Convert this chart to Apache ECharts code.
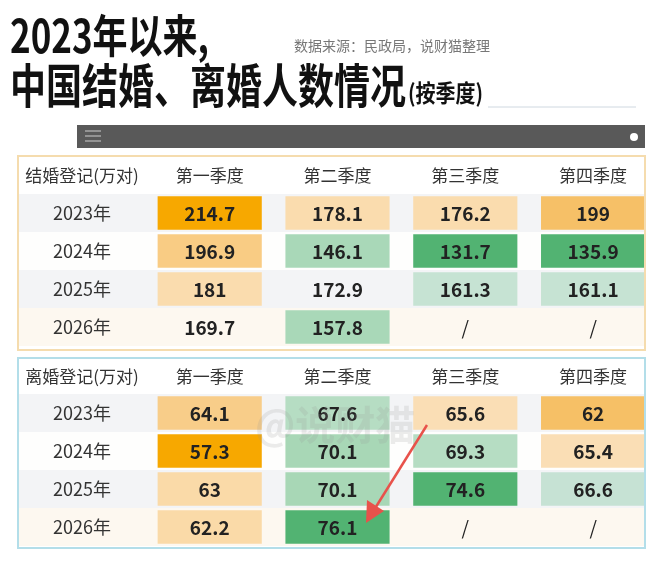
<!DOCTYPE html>
<html>
<head>
<meta charset="utf-8">
<script src="https://cdn.jsdelivr.net/npm/echarts@6/dist/echarts.min.js"></script>
<style>
  html, body { margin: 0; padding: 0; background: #fff; }
  #chart { width: 660px; height: 563px; }
</style>
</head>
<body>
<div id="chart"></div>
<script>
// table headers
const quarters = ['第一季度', '第二季度', '第三季度', '第四季度'];
const years = ['2023年', '2024年', '2025年', '2026年'];

// marriage registrations (10k couples), one array per year, Q1..Q4
const marry2023 = [214.7, 178.1, 176.2, 199];
const marry2024 = [196.9, 146.1, 131.7, 135.9];
const marry2025 = [181, 172.9, 161.3, 161.1];
const marry2026 = [169.7, 157.8, null, null];

// divorce registrations (10k couples)
const divorce2023 = [64.1, 67.6, 65.6, 62];
const divorce2024 = [57.3, 70.1, 69.3, 65.4];
const divorce2025 = [63, 70.1, 74.6, 66.6];
const divorce2026 = [62.2, 76.1, null, null];

const FONT = '"Noto Sans CJK SC", "Noto Sans", sans-serif';

function toCells(rows) {
    const out = [];
    rows.forEach((row, i) => {
        row.forEach((v, j) => {
            out.push([j + 1, i, v == null ? '-' : v]);
        });
    });
    return out;
}

function renderCell(params, api) {
    const v = api.value(2);
    const c = api.coord([api.value(0), api.value(1)]);
    const s = api.size([1, 1]);
    const w = s[0] * 0.815;
    const h = s[1] * 0.88;
    const empty = isNaN(v);
    return {
        type: 'group',
        children: [
            {
                type: 'rect',
                shape: { x: c[0] - w / 2, y: c[1] - h / 2, width: w, height: h },
                style: { fill: empty ? 'rgba(0,0,0,0)' : api.visual('color') }
            },
            {
                type: 'text',
                style: {
                    text: empty ? '/' : String(v),
                    x: c[0], y: c[1] + 1,
                    align: 'center', verticalAlign: 'middle',
                    fontSize: 19, fontWeight: empty ? 'normal' : 'bold',
                    fontFamily: FONT, fill: '#222'
                }
            }
        ]
    };
}

function makeX(gridIndex, header, margin) {
    return {
        type: 'category',
        gridIndex: gridIndex,
        position: 'top',
        data: [header].concat(quarters),
        axisLine: { show: false },
        axisTick: { show: false },
        axisLabel: {
            interval: 0, margin: margin, verticalAlign: 'middle',
            fontSize: 17, color: '#333', fontFamily: FONT
        },
        splitLine: { show: false }
    };
}

function makeY(gridIndex) {
    return {
        type: 'category',
        gridIndex: gridIndex,
        inverse: true,
        data: years,
        axisLine: { show: false },
        axisTick: { show: false },
        axisLabel: {
            interval: 0, inside: true, margin: 64, align: 'center',
            fontSize: 18, color: '#333', fontFamily: FONT
        },
        splitLine: { show: false },
        splitArea: {
            show: true,
            areaStyle: { color: ['#F3F4F6', '#FEFEFD', '#F3F4F6', '#FDF8F0'] }
        }
    };
}

const chart = echarts.init(document.getElementById('chart'), null, { renderer: 'canvas' });

const option = {
    backgroundColor: '#fff',
    animation: false,
    grid: [
        { left: 18, right: 3, top: 194, height: 152 },
        { left: 18, right: 3, top: 394, height: 152 }
    ],
    xAxis: [makeX(0, '结婚登记(万对)', 18), makeX(1, '离婚登记(万对)', 17)],
    yAxis: [makeY(0), makeY(1)],
    visualMap: [
        {
            type: 'piecewise', show: false, seriesIndex: 0, dimension: 2,
            pieces: [
                { gte: 205, color: '#F7A800' },
                { gte: 198, lt: 205, color: '#F6C067' },
                { gte: 190, lt: 198, color: '#F9CC84' },
                { gte: 174, lt: 190, color: '#FADCAE' },
                { gte: 165, lt: 174, color: 'rgba(255,255,255,0)' },
                { gte: 159, lt: 165, color: '#C6E3D3' },
                { gte: 140, lt: 159, color: '#A9D8B8' },
                { lt: 140, color: '#52B372' }
            ]
        },
        {
            type: 'piecewise', show: false, seriesIndex: 1, dimension: 2,
            pieces: [
                { gte: 73, color: '#52B372' },
                { gte: 69.9, lt: 73, color: '#A8D7B6' },
                { gte: 67, lt: 69.9, color: '#B6DDC3' },
                { gte: 66, lt: 67, color: '#C6E2D4' },
                { gte: 65, lt: 66, color: '#FADEB5' },
                { gte: 64, lt: 65, color: '#F8CD89' },
                { gte: 62.1, lt: 64, color: '#FADAA8' },
                { gte: 60, lt: 62.1, color: '#F6C066' },
                { lt: 60, color: '#F7A800' }
            ]
        }
    ],
    series: [
        {
            type: 'custom', name: '结婚登记',
            xAxisIndex: 0, yAxisIndex: 0,
            encode: { x: 0, y: 1 },
            renderItem: renderCell,
            data: toCells([marry2023, marry2024, marry2025, marry2026])
        },
        {
            type: 'custom', name: '离婚登记',
            xAxisIndex: 1, yAxisIndex: 1,
            encode: { x: 0, y: 1 },
            renderItem: renderCell,
            data: toCells([divorce2023, divorce2024, divorce2025, divorce2026])
        }
    ],
    graphic: [
        // title
        {
            type: 'group', x: 10, y: 13, scaleY: 1.3,
            children: [{
                type: 'text', x: 0, y: 0,
                style: { text: '2023年以来,', fontSize: 35, fontWeight: 'bold', fontFamily: FONT, fill: '#111', verticalAlign: 'top' }
            }]
        },
        {
            type: 'group', x: 10, y: 62, scaleY: 1.3,
            children: [{
                type: 'text', x: 0, y: 0,
                style: { text: '中国结婚、离婚人数情况', fontSize: 36, fontWeight: 'bold', fontFamily: FONT, fill: '#111', verticalAlign: 'top' }
            }]
        },
        {
            type: 'group', x: 408, y: 81, scaleY: 1.2,
            children: [{
                type: 'text', x: 0, y: 0,
                style: { text: '(按季度)', fontSize: 20, fontWeight: 'bold', fontFamily: FONT, fill: '#111', verticalAlign: 'top' }
            }]
        },
        {
            type: 'text', x: 294, y: 46,
            style: { text: '数据来源：民政局，说财猫整理', fontSize: 14, fontFamily: FONT, fill: '#777', verticalAlign: 'middle' }
        },
        { type: 'line', shape: { x1: 488, y1: 107, x2: 636, y2: 107 }, style: { stroke: '#CFD8E0', lineWidth: 1 } },
        // dark toolbar
        { type: 'rect', shape: { x: 77, y: 125, width: 568, height: 23 }, style: { fill: '#595959' } },
        { type: 'line', shape: { x1: 85, y1: 131, x2: 101, y2: 131 }, style: { stroke: '#bbb', lineWidth: 1.2 } },
        { type: 'line', shape: { x1: 85, y1: 136, x2: 101, y2: 136 }, style: { stroke: '#bbb', lineWidth: 1.2 } },
        { type: 'line', shape: { x1: 85, y1: 141, x2: 101, y2: 141 }, style: { stroke: '#bbb', lineWidth: 1.2 } },
        { type: 'circle', shape: { cx: 634, cy: 137, r: 4 }, style: { fill: '#fff' } },
        // cover stripe overflow at the right edge
        { type: 'rect', z: 50, shape: { x: 646, y: 150, width: 14, height: 410 }, style: { fill: '#fff' } },
        // panel frames
        { type: 'rect', z: 60, shape: { x: 18, y: 156, width: 627, height: 194 }, style: { fill: 'none', stroke: '#F5DCAE', lineWidth: 2 } },
        { type: 'rect', z: 60, shape: { x: 18, y: 358, width: 627, height: 190 }, style: { fill: 'none', stroke: '#B3DEE9', lineWidth: 2 } },
        // watermark
        {
            type: 'text', z: 70, x: 255, y: 425,
            style: { text: '@说财猫', fontSize: 40, fontWeight: 'bold', fontFamily: FONT, fill: 'rgba(150,150,150,0.18)', verticalAlign: 'middle' }
        },
        // red arrow annotation
        { type: 'line', z: 80, shape: { x1: 427, y1: 425, x2: 374, y2: 510 }, style: { stroke: '#E8524B', lineWidth: 2.5 } },
        { type: 'polygon', z: 80, shape: { points: [[366, 523], [367, 500], [384, 511]] }, style: { fill: '#E8524B' } }
    ]
};

chart.setOption(option);
</script>
</body>
</html>
